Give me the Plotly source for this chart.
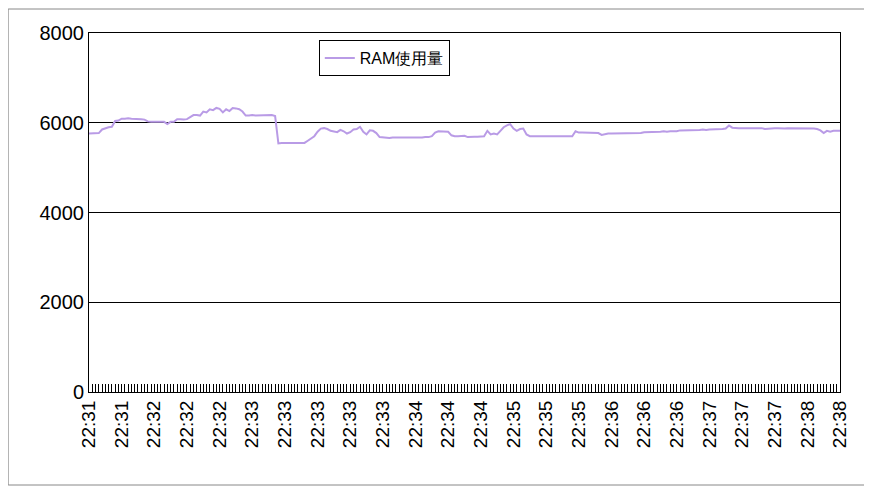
import plotly.graph_objects as go

# RAM usage samples (one per x step)
ram = [
    5760, 5760, 5760, 5770, 5850, 5880, 5900, 5910, 6040, 6050,
    6090, 6090, 6100, 6090, 6090, 6090, 6080, 6070, 6030, 6020,
    6020, 6020, 6030, 6020, 5970, 6020, 6020, 6080, 6080, 6070,
    6080, 6120, 6170, 6170, 6160, 6250, 6230, 6300, 6280, 6330,
    6310, 6230, 6300, 6260, 6330, 6320, 6300, 6250, 6160, 6160,
    6170, 6160, 6160, 6170, 6160, 6170, 6170, 6150, 5540, 5550,
    5550, 5550, 5550, 5550, 5550, 5560, 5550, 5600, 5650, 5700,
    5800, 5870, 5880, 5860, 5820, 5800, 5790, 5840, 5810, 5760,
    5790, 5850, 5860, 5910, 5800, 5740, 5830, 5820, 5770, 5680,
    5670, 5670, 5660, 5670, 5670, 5670, 5660, 5670, 5670, 5670,
    5670, 5670, 5670, 5680, 5680, 5700, 5780, 5810, 5810, 5810,
    5800, 5720, 5700, 5700, 5700, 5710, 5680, 5690, 5690, 5690,
    5690, 5700, 5820, 5740, 5760, 5740, 5820, 5900, 5940, 5970,
    5870, 5820, 5860, 5870, 5740, 5700, 5700, 5700, 5690, 5700,
    5700, 5700, 5690, 5700, 5700, 5700, 5700, 5690, 5700, 5810,
    5780, 5780, 5780, 5770, 5780, 5780, 5770, 5730, 5750, 5760,
    5760, 5760, 5770, 5760, 5770, 5770, 5760, 5770, 5770, 5770,
    5790, 5790, 5800, 5790, 5800, 5800, 5810, 5800, 5810, 5810,
    5810, 5830, 5830, 5840, 5830, 5840, 5840, 5840, 5850, 5840,
    5850, 5850, 5850, 5850, 5860, 5870, 5940, 5890, 5880, 5880,
    5880, 5880, 5880, 5870, 5880, 5880, 5880, 5860, 5870, 5880,
    5880, 5880, 5870, 5870, 5880, 5880, 5870, 5880, 5880, 5880,
    5880, 5880, 5870, 5860, 5830, 5770, 5820, 5800, 5820, 5820,
    5820,
]
time_labels = [
    "22:31", "22:31", "22:32", "22:32", "22:32", "22:33", "22:33", "22:33",
    "22:33", "22:33", "22:34", "22:34", "22:34", "22:35", "22:35", "22:35",
    "22:36", "22:36", "22:36", "22:37", "22:37", "22:37", "22:38", "22:38",
]

xs = list(range(len(ram)))
label_pos = [i * 10 for i in range(len(time_labels))]

fig = go.Figure()
fig.add_trace(go.Scatter(x=xs, y=ram, mode="lines", name="RAM使用量",
                         line=dict(color="#b99be6", width=2)))

font = "Liberation Sans, Arial, sans-serif"
fig.update_layout(
    width=864, height=478,
    margin=dict(l=81, r=32, t=25, b=94),
    paper_bgcolor="white", plot_bgcolor="white",
    font=dict(family=font, color="black"),
    showlegend=True,
    legend=dict(x=0.306, y=0.98, xanchor="left", yanchor="top",
                bgcolor="white", bordercolor="black", borderwidth=1,
                font=dict(size=16), itemwidth=30),
    xaxis=dict(range=[0, len(ram) - 1], tickmode="array", tickvals=label_pos,
               ticktext=time_labels, tickangle=-90, tickfont=dict(size=19),
               ticks="inside", ticklen=8, tickcolor="black",
               minor=dict(dtick=1, ticks="inside", ticklen=8, tickcolor="black"),
               showgrid=False, showline=True, linecolor="black", mirror=True,
               zeroline=False, automargin=False),
    yaxis=dict(range=[0, 8000], tickvals=[0, 2000, 4000, 6000, 8000],
               tickfont=dict(size=20), ticks="", showgrid=True,
               gridcolor="black", gridwidth=1, showline=True,
               linecolor="black", mirror=True, zeroline=False,
               automargin=False),
    shapes=[dict(type="rect", xref="paper", yref="paper",
                 x0=-80 / 743, x1=1 + 31 / 743, y0=-93 / 359, y1=1 + 24 / 359,
                 line=dict(color="#888888", width=1))],
)

fig.write_html("out.html")
